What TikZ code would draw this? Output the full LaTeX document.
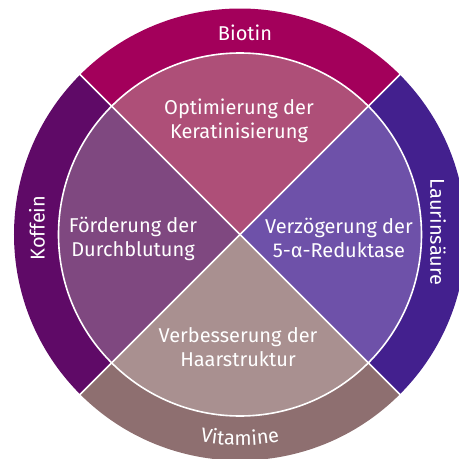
\documentclass[tikz,border=0pt]{standalone}
\usepackage{fontspec}
\setmainfont{Fira Sans}
\usetikzlibrary{decorations.text}
\definecolor{biotinRing}{HTML}{A3005B}
\definecolor{koffeinRing}{HTML}{5F0A67}
\definecolor{laurinRing}{HTML}{43208E}
\definecolor{vitaminRing}{HTML}{8E6F70}
\definecolor{keratinFill}{HTML}{AE4F78}
\definecolor{bloodFill}{HTML}{7F4880}
\definecolor{reductFill}{HTML}{6E51A9}
\definecolor{hairFill}{HTML}{A99090}
\def\outerR{226}
\def\innerR{181.5}
\newcommand\wheelfont{\fontsize{20}{24}\selectfont}

\begin{document}
\begin{tikzpicture}[
    x=1pt, y=1pt,
    every node/.style={font=\wheelfont, text=white, align=center},
    divider/.style={draw=white, line width=1.6pt},
    ]

\useasboundingbox (-240,-224.5) rectangle (219,234.5);
\clip (-240,-224.5) rectangle (219,234.5);

% ====================================================================
% Outer ring (active ingredients)
% ====================================================================
\foreach \a/\c in {45/biotinRing, 135/koffeinRing, 225/vitaminRing, -45/laurinRing}{
    \fill[\c] (0,0) -- (\a:\outerR) arc (\a:\a+90:\outerR) -- cycle;
}

% ====================================================================
% Inner disc (effects)
% ====================================================================
\foreach \a/\c in {45/keratinFill, 135/bloodFill, 225/hairFill, -45/reductFill}{
    \fill[\c] (0,0) -- (\a:\innerR) arc (\a:\a+90:\innerR) -- cycle;
}

% White separators
\draw[divider] (0,0) circle (\innerR);
\draw[divider] (45:\outerR+5) -- (225:\outerR+5);
\draw[divider] (135:\outerR+5) -- (315:\outerR+5);

% ====================================================================
% Labels
% ====================================================================
\node (biotin) at (5,201.5) {Biotin};
\node[rotate=90] (koffein) at (-203,6.5) {Koffein};
\node[rotate=-90] (laurin) at (198,2.5) {Laurinsäure};
\path[decorate, decoration={text along path, text align=center,
      text color=white, text={|\wheelfont|Vitamine}}]
  (240:211) arc (240:300:211);

\node (keratin) at (-1,113.5) {Optimierung der\\Keratinisierung};
\node (blood) at (-107,-4) {Förderung der\\Durchblutung};
\node (reduct) at (99,-3.5) {Verzögerung der\\5-α-Reduktase};
\node (hair) at (-2,-113) {Verbesserung der\\Haarstruktur};

\end{tikzpicture}
\end{document}
